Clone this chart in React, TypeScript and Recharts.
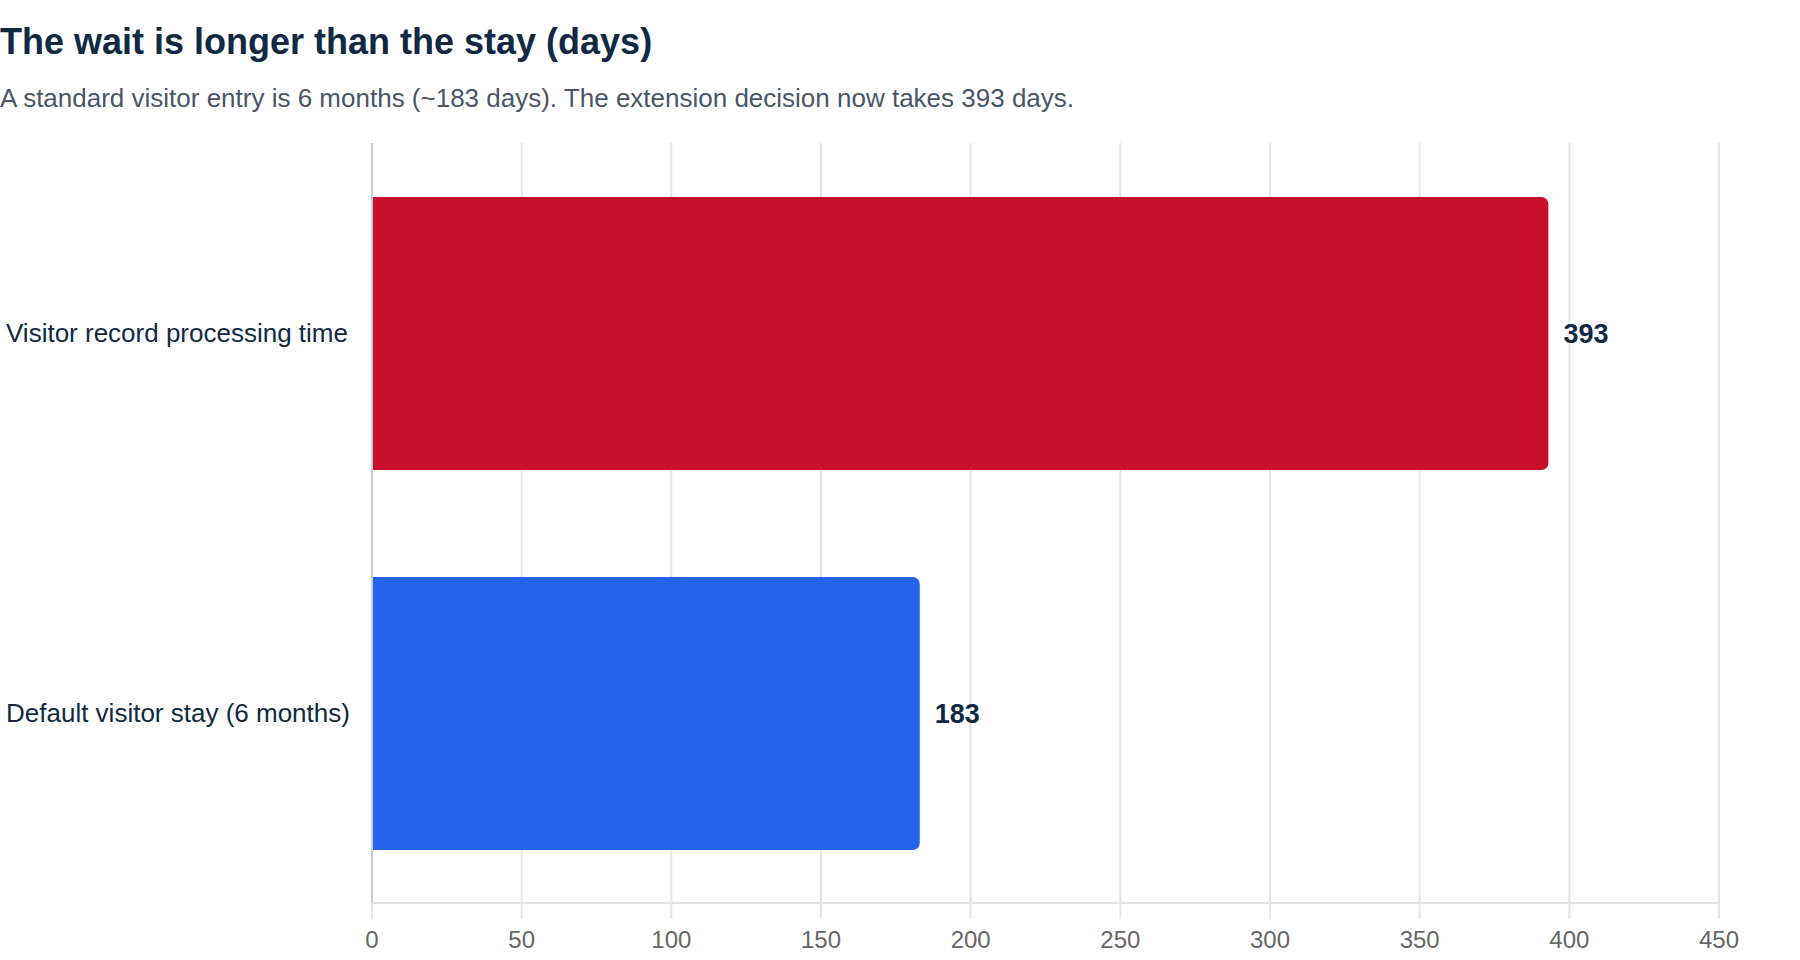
import React from "react";
import { BarChart, Bar, XAxis, YAxis, CartesianGrid, Cell, LabelList } from "recharts";

const categories = ["Visitor record processing time", "Default visitor stay (6 months)"];
const values = [393, 183];
const colors = ["#c8102e", "#2563eb"];
const xTicks = [0, 50, 100, 150, 200, 250, 300, 350, 400, 450];

const data = categories.map((name, i) => ({ name, value: values[i], color: colors[i] }));

const FONT = '"Liberation Sans", Arial, Helvetica, sans-serif';

const YTick = (props: any) => {
  const { y, payload } = props;
  return (
    <text x={6} y={y} dy="0.355em" textAnchor="start" fontSize={26} fill="#102a43" fontFamily={FONT}>
      {payload.value}
    </text>
  );
};

export default function App() {
  return (
    <div style={{ position: "absolute", left: 0, top: 0, width: 1800, height: 960, background: "#fff", fontFamily: FONT }}>
      <div style={{ position: "absolute", left: 0, top: 24, fontSize: 36, lineHeight: "36px", fontWeight: 700, color: "#102a43", whiteSpace: "nowrap" }}>
        The wait is longer than the stay (days)
      </div>
      <div style={{ position: "absolute", left: 0, top: 85, fontSize: 26, lineHeight: "26px", color: "#4a5568", whiteSpace: "nowrap" }}>
        A standard visitor entry is 6 months (~183 days). The extension decision now takes 393 days.
      </div>
      <div style={{ position: "absolute", left: 0, top: 0 }}>
        <BarChart
          width={1800}
          height={960}
          data={data}
          layout="vertical"
          margin={{ top: 143, right: 81, bottom: 0, left: 0 }}
        >
          <CartesianGrid horizontal={false} vertical={true} stroke="#e2e8f0" strokeWidth={2} />
          <XAxis
            type="number"
            domain={[0, 450]}
            ticks={xTicks}
            height={57}
            tickSize={16}
            tickMargin={12}
            axisLine={{ stroke: "#e2e4e8", strokeWidth: 2 }}
            tickLine={{ stroke: "#e2e8f0", strokeWidth: 2 }}
            tick={{ fontSize: 24, fill: "#666666", fontFamily: FONT }}
          />
          <YAxis
            type="category"
            dataKey="name"
            width={372}
            axisLine={{ stroke: "#c8ccd4", strokeWidth: 2 }}
            tickLine={false}
            tick={<YTick />}
          />
          <Bar dataKey="value" barSize={273} radius={[0, 7, 7, 0]} isAnimationActive={false}>
            {data.map((d, i) => (
              <Cell key={i} fill={d.color} />
            ))}
            <LabelList
              dataKey="value"
              position="right"
              offset={15}
              fill="#102a43"
              fontSize={27}
              fontWeight={700}
              fontFamily={FONT}
            />
          </Bar>
        </BarChart>
      </div>
    </div>
  );
}
